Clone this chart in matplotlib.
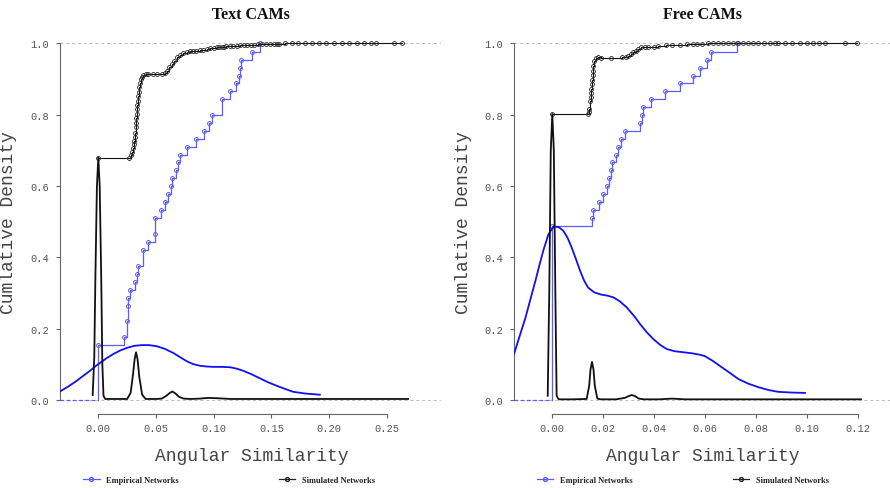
import matplotlib
matplotlib.use("Agg")
import matplotlib.pyplot as plt
from matplotlib.lines import Line2D
import numpy as np

# ---- Text CAMs ----
text_emp_x = [0.0, 0.0225, 0.0249, 0.0255, 0.0260, 0.0272, 0.0315, 0.0333, 0.0344, 0.0387,
              0.0428, 0.0491, 0.0491, 0.0544, 0.0578, 0.0601, 0.0627, 0.0636, 0.0674, 0.0691,
              0.0711, 0.0772, 0.0844, 0.0919, 0.0957, 0.0986, 0.1070, 0.1144, 0.1191, 0.1217,
              0.1231, 0.1234, 0.1330, 0.1400]
text_emp_y = [0.154, 0.177, 0.221, 0.265, 0.287, 0.309, 0.332, 0.354, 0.377, 0.422,
              0.444, 0.466, 0.511, 0.533, 0.555, 0.577, 0.599, 0.622, 0.644, 0.667,
              0.688, 0.711, 0.732, 0.755, 0.777, 0.799, 0.844, 0.866, 0.888, 0.910,
              0.931, 0.954, 0.976, 1.000]

text_sim_x = [0.0, 0.0269, 0.0280, 0.0290, 0.0298, 0.0305, 0.0310, 0.0315, 0.0319, 0.0324,
              0.0327, 0.0330, 0.0333, 0.0336, 0.0339, 0.0341, 0.0345, 0.0349, 0.0353, 0.0359,
              0.0367, 0.0378, 0.0390, 0.0410, 0.0433, 0.0470, 0.0510, 0.0550, 0.0575, 0.0593,
              0.0615, 0.0636, 0.0658, 0.0680, 0.0705, 0.0737, 0.0765, 0.0795, 0.0820, 0.0850,
              0.0880, 0.0910, 0.0940, 0.0970, 0.1000, 0.1026, 0.1050, 0.1070, 0.1090, 0.1110,
              0.1140, 0.1170, 0.1200, 0.1230, 0.1260, 0.1286, 0.1320, 0.1350, 0.1380, 0.1420,
              0.1450, 0.1490, 0.1520, 0.1545, 0.1570, 0.1620, 0.1680, 0.1730, 0.1790, 0.1850,
              0.1910, 0.1970, 0.2040, 0.2110, 0.2170, 0.2240, 0.2300, 0.2360, 0.2410, 0.2560,
              0.2630]
text_sim_y = [0.679, 0.679, 0.686, 0.695, 0.706, 0.717, 0.727, 0.738, 0.750, 0.765,
              0.777, 0.790, 0.802, 0.815, 0.828, 0.840, 0.852, 0.865, 0.877, 0.889,
              0.900, 0.907, 0.912, 0.914, 0.915, 0.915, 0.914, 0.914, 0.918, 0.924,
              0.933, 0.942, 0.952, 0.961, 0.968, 0.973, 0.976, 0.978, 0.979, 0.980,
              0.982, 0.983, 0.985, 0.986, 0.988, 0.989, 0.990, 0.991, 0.991, 0.992,
              0.993, 0.994, 0.994, 0.995, 0.996, 0.996, 0.997, 0.997, 0.998, 0.998,
              0.998, 0.998, 0.999, 0.999, 0.999, 1.000, 1.000, 1.000, 1.000, 1.000,
              1.000, 1.000, 1.000, 1.000, 1.000, 1.000, 1.000, 1.000, 1.000, 1.000,
              1.000]

text_dens_emp_x = [-0.0332, -0.0260, -0.0187, -0.0130, -0.0072, -0.0020, 0.0015, 0.0070, 0.0130,
                   0.0190, 0.0246, 0.0310, 0.0376, 0.0440, 0.0506, 0.0580, 0.0650, 0.0710,
                   0.0766, 0.0820, 0.0882, 0.0940, 0.0997, 0.1070, 0.1142, 0.1200, 0.1257,
                   0.1330, 0.1400, 0.1470, 0.1546, 0.1620, 0.1690, 0.1800, 0.1920]
text_dens_emp_y = [0.024, 0.038, 0.054, 0.068, 0.082, 0.096, 0.104, 0.117, 0.129,
                   0.139, 0.146, 0.152, 0.154, 0.154, 0.151, 0.143, 0.132, 0.120,
                   0.109, 0.101, 0.096, 0.094, 0.093, 0.093, 0.092, 0.088, 0.082,
                   0.072, 0.061, 0.050, 0.040, 0.031, 0.023, 0.018, 0.015]

text_dens_sim_x = [-0.0049, -0.0035, -0.0025, -0.0012, 0.0, 0.0012, 0.0025, 0.0035, 0.0045,
                   0.0060, 0.0150, 0.0250, 0.0280, 0.0300, 0.0315, 0.0327, 0.0340, 0.0355,
                   0.0380, 0.0410, 0.0500, 0.0550, 0.0590, 0.0620, 0.0642, 0.0670, 0.0700,
                   0.0740, 0.0800, 0.0880, 0.0954, 0.1030, 0.1150, 0.1500, 0.2000, 0.2685]
text_dens_sim_y = [0.014, 0.120, 0.350, 0.600, 0.680, 0.600, 0.350, 0.100, 0.012,
                   0.003, 0.003, 0.003, 0.020, 0.070, 0.115, 0.134, 0.115, 0.065,
                   0.015, 0.003, 0.003, 0.004, 0.012, 0.020, 0.024, 0.018, 0.009,
                   0.004, 0.003, 0.004, 0.006, 0.005, 0.003, 0.003, 0.003, 0.003]

# ---- Free CAMs ----
free_emp_x = [0.0, 0.0155, 0.0161, 0.0185, 0.0198, 0.0214, 0.0224, 0.0229, 0.0233, 0.0249,
              0.0259, 0.0269, 0.0286, 0.0345, 0.0354, 0.0358, 0.0387, 0.0443, 0.0502, 0.0554,
              0.0580, 0.0609, 0.0624, 0.0726]
free_emp_y = [0.489, 0.511, 0.533, 0.555, 0.577, 0.599, 0.622, 0.644, 0.667, 0.688,
              0.711, 0.732, 0.755, 0.777, 0.799, 0.821, 0.844, 0.866, 0.888, 0.910,
              0.931, 0.954, 0.976, 1.000]

free_sim_x = [0.0, 0.0139, 0.0143, 0.01455, 0.0149, 0.0151, 0.0153, 0.0154, 0.0155, 0.0156,
              0.0158, 0.0159, 0.0161, 0.0165, 0.0170, 0.0178, 0.0191, 0.0230, 0.0273, 0.0288,
              0.0299, 0.0310, 0.0318, 0.0328, 0.0338, 0.0350, 0.0364, 0.0377, 0.0400, 0.0417,
              0.0445, 0.0469, 0.0500, 0.0530, 0.0552, 0.0570, 0.0590, 0.0610, 0.0630, 0.0650,
              0.0670, 0.0690, 0.0710, 0.0730, 0.0750, 0.0770, 0.0790, 0.0810, 0.0830, 0.0855,
              0.0875, 0.0887, 0.0914, 0.0942, 0.0973, 0.1000, 0.1024, 0.1048, 0.1071, 0.1150,
              0.1196]
free_sim_y = [0.802, 0.802, 0.808, 0.816, 0.838, 0.849, 0.861, 0.873, 0.886, 0.898,
              0.911, 0.924, 0.936, 0.952, 0.958, 0.961, 0.960, 0.960, 0.961, 0.963,
              0.966, 0.970, 0.975, 0.980, 0.985, 0.989, 0.991, 0.991, 0.991, 0.993,
              0.995, 0.996, 0.997, 0.998, 0.999, 0.999, 0.999, 1.000, 1.000, 1.000,
              1.000, 1.000, 1.000, 1.000, 1.000, 1.000, 1.000, 1.000, 1.000, 1.000,
              1.000, 1.000, 1.000, 1.000, 1.000, 1.000, 1.000, 1.000, 1.000, 1.000,
              1.000]

free_dens_emp_x = [-0.01505, -0.0128, -0.0105, -0.0085, -0.0065, -0.0050, -0.0035, -0.0015, 0.0005,
                   0.0025, 0.0043, 0.0060, 0.0076, 0.0092, 0.0109, 0.0125, 0.0141, 0.0165,
                   0.0190, 0.0215, 0.0240, 0.0265, 0.0292, 0.0320, 0.0345, 0.0370, 0.0397,
                   0.0425, 0.0450, 0.0480, 0.0515, 0.0550, 0.0580, 0.0600, 0.0630, 0.0666,
                   0.0700, 0.0731, 0.0770, 0.0810, 0.0850, 0.0888, 0.0940, 0.0993]
free_dens_emp_y = [0.129, 0.180, 0.232, 0.285, 0.338, 0.380, 0.420, 0.465, 0.487,
                   0.485, 0.475, 0.455, 0.428, 0.397, 0.363, 0.335, 0.315, 0.302,
                   0.296, 0.293, 0.288, 0.277, 0.260, 0.237, 0.213, 0.191, 0.171,
                   0.154, 0.143, 0.137, 0.134, 0.131, 0.127, 0.123, 0.110, 0.092,
                   0.075, 0.059, 0.046, 0.036, 0.028, 0.023, 0.021, 0.020]

free_dens_sim_x = [-0.0018, -0.0012, -0.0006, 0.0, 0.0006, 0.0012, 0.0017, 0.0025, 0.0080,
                   0.0135, 0.0145, 0.0150, 0.0156, 0.0162, 0.0167, 0.0177, 0.0190, 0.0250,
                   0.0285, 0.0300, 0.0312, 0.0325, 0.0340, 0.0360, 0.0420, 0.0470, 0.0520,
                   0.0600, 0.0800, 0.1000, 0.1213]
free_dens_sim_y = [0.012, 0.300, 0.700, 0.802, 0.700, 0.300, 0.012, 0.002, 0.002,
                   0.003, 0.040, 0.085, 0.107, 0.085, 0.040, 0.004, 0.002, 0.002,
                   0.006, 0.011, 0.014, 0.011, 0.004, 0.002, 0.002, 0.004, 0.002,
                   0.002, 0.002, 0.002, 0.002]

text_xticks = [0.00, 0.05, 0.10, 0.15, 0.20, 0.25]
free_xticks = [0.00, 0.02, 0.04, 0.06, 0.08, 0.10, 0.12]
yticks = [0.0, 0.2, 0.4, 0.6, 0.8, 1.0]

EMP_LINE = '#5b5bff'
EMP_DENS = '#1010f0'
MONO = 'Liberation Mono'
SERIF = 'Liberation Serif'


def panel(ax, title, emp_x, emp_y, sim_x, sim_y, de_x, de_y, ds_x, ds_y, xlim, xticks):
    ax.set_xlim(*xlim)
    ax.set_ylim(-0.04, 1.04)

    ax.axhline(0, color='#bdbdbd', lw=0.7, ls=(0, (3, 3)), zorder=1)
    ax.axhline(1, color='#bdbdbd', lw=0.7, ls=(0, (3, 3)), zorder=1)

    # empirical ecdf
    ax.hlines(0, xlim[0], emp_x[0], color=EMP_LINE, lw=0.9, linestyles=(0, (3, 2)), zorder=2)
    ax.step([emp_x[0]] + emp_x, [0] + emp_y, where='post', color=EMP_LINE, lw=0.9, zorder=3)
    ax.plot(emp_x, emp_y, 'o', ms=2.8, mfc='none', mec=EMP_LINE, mew=0.7, zorder=3)

    # simulated ecdf
    ax.step(sim_x, sim_y, where='post', color='#111111', lw=0.8, zorder=3)
    ax.plot(sim_x, sim_y, 'o', ms=2.8, mfc='none', mec='#222222', mew=0.6, zorder=3)

    # densities
    ax.plot(de_x, de_y, color=EMP_DENS, lw=1.3, zorder=4)
    ax.plot(ds_x, ds_y, color='#111111', lw=1.3, zorder=4)

    for s in ['top', 'right']:
        ax.spines[s].set_visible(False)
    ax.spines['left'].set_bounds(0, 1)
    ax.spines['bottom'].set_bounds(xticks[0], xticks[-1])
    for s in ['left', 'bottom']:
        ax.spines[s].set_color('#666666')
        ax.spines[s].set_linewidth(0.8)

    ax.set_xticks(xticks)
    ax.set_xticklabels(['%.2f' % t for t in xticks])
    ax.set_yticks(yticks)
    ax.set_yticklabels(['%.1f' % t for t in yticks])
    ax.tick_params(axis='both', colors='#666666', labelcolor='#555555', labelsize=7.5,
                   length=3, width=0.8)
    ax.tick_params(axis='y', pad=5)
    for lab in ax.get_xticklabels() + ax.get_yticklabels():
        lab.set_family(MONO)

    ax.set_xlabel('Angular Similarity', family=MONO, fontsize=13, color='#444444')
    ax.set_ylabel('Cumlative Density', family=MONO, fontsize=13, color='#444444')
    ax.xaxis.set_label_coords(0.503, -0.085)
    ax.yaxis.set_label_coords(-0.113, 0.5)

    ax.text(0.5, 1.04, title, transform=ax.transAxes, ha='center', va='center',
            family=SERIF, fontweight='bold', fontsize=11.5, color='#111111')

    handles = [
        Line2D([], [], color=EMP_LINE, lw=0.9, marker='o', ms=2.8, mfc='none', mec=EMP_LINE),
        Line2D([], [], color='#222222', lw=0.9, marker='o', ms=2.8, mfc='none', mec='#222222'),
    ]
    leg = ax.legend(handles, ['Empirical Networks', 'Simulated Networks'], loc='center left',
                    bbox_to_anchor=(0.06, -0.171), ncol=2, frameon=False, borderpad=0,
                    borderaxespad=0, handlelength=2.0, handletextpad=0.8, columnspacing=12.0,
                    prop={'family': SERIF, 'weight': 'bold', 'size': 6})
    for t in leg.get_texts():
        t.set_color('#222222')


fig = plt.figure(figsize=(8.9, 4.89), dpi=100)
ax1 = fig.add_axes([60 / 890, 1 - 415.3 / 489, 381 / 890, 385.1 / 489])
ax2 = fig.add_axes([514 / 890, 1 - 415.3 / 489, 376 / 890, 385.1 / 489])

panel(ax1, 'Text CAMs', text_emp_x, text_emp_y, text_sim_x, text_sim_y,
      text_dens_emp_x, text_dens_emp_y, text_dens_sim_x, text_dens_sim_y,
      (-0.0332, 0.297), text_xticks)
panel(ax2, 'Free CAMs', free_emp_x, free_emp_y, free_sim_x, free_sim_y,
      free_dens_emp_x, free_dens_emp_y, free_dens_sim_x, free_dens_sim_y,
      (-0.01505, 0.1327), free_xticks)

fig.savefig('out.png', dpi=100)
